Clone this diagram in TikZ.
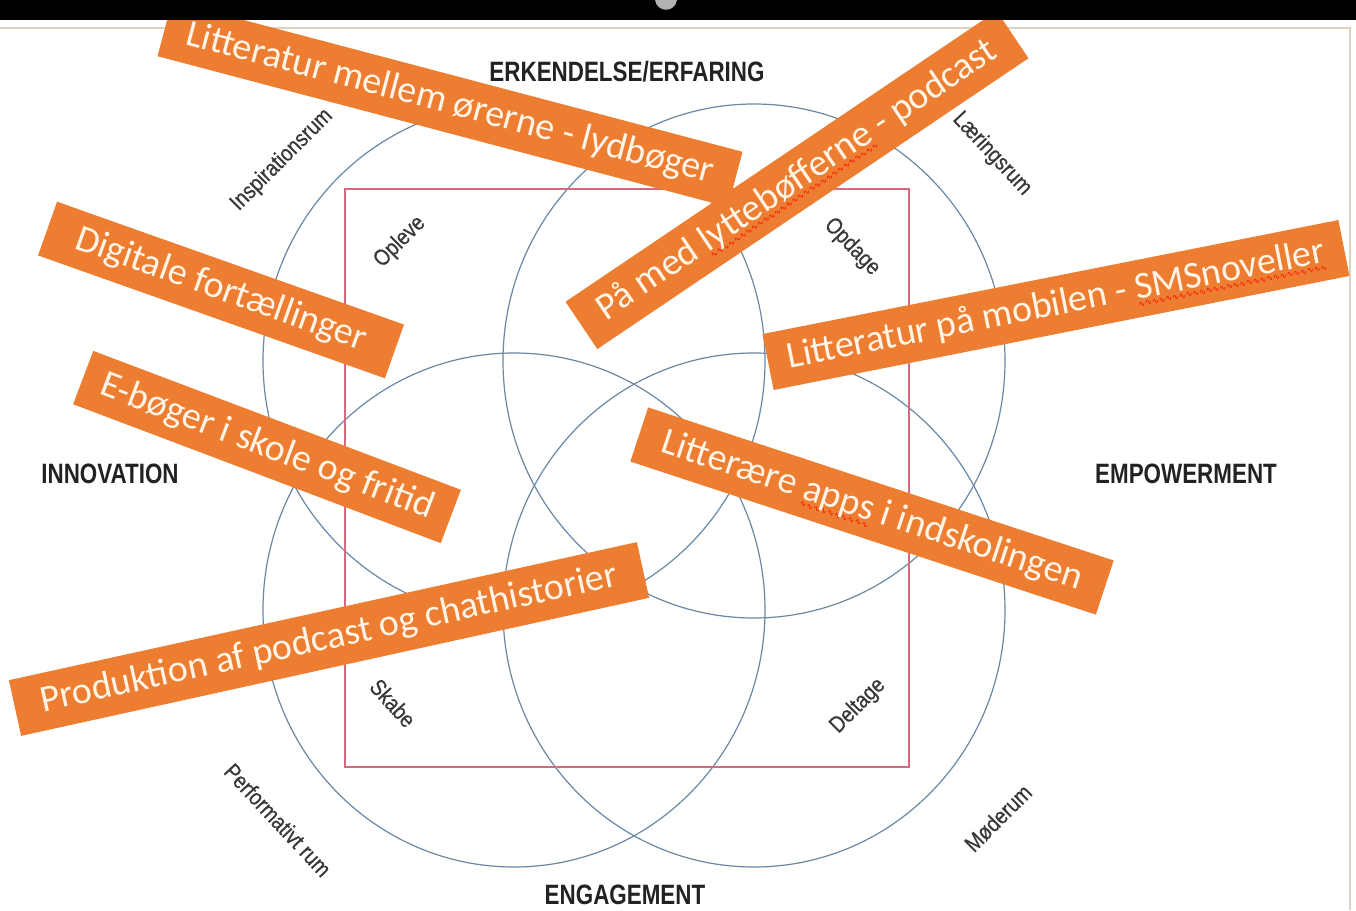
\documentclass[tikz,border=0pt]{standalone}
\usepackage{fontspec}
\setmainfont{Liberation Sans}
\newfontfamily\condb[FakeStretch=0.8]{Liberation Sans}
\newfontfamily\condr[FakeStretch=0.85,FakeBold=0.5]{Liberation Sans}
\newfontfamily\calib{Carlito}
\newfontfamily\djv{DejaVu Sans}
\definecolor{bannerorange}{HTML}{ED7D31}
\definecolor{bannertext}{HTML}{FFF4E6}
\definecolor{circ}{HTML}{6A88A3}
\definecolor{rectc}{HTML}{D46A80}
\definecolor{framec}{HTML}{DDD3BC}
\definecolor{labelc}{HTML}{222222}
\newcommand{\sqig}[1]{\setbox0\hbox{#1}\rlap{\raisebox{-8pt}[0pt][0pt]{\color{red}\djv\fontsize{8}{8}\selectfont\hbox to \wd0{\xleaders\hbox{∿}\hfill}}}\box0\relax}
\begin{document}
\begin{tikzpicture}[x=1pt,y=-1pt,
  banner/.style={fill=bannerorange, text=bannertext, font=\calib\fontsize{38}{38}\selectfont, minimum height=57pt, inner sep=0pt, anchor=center},
  axislabel/.style={font=\condb\bfseries\fontsize{28}{28}\selectfont, text=labelc, inner sep=0pt},
  roomlabel/.style={font=\condr\fontsize{23}{23}\selectfont, text=labelc!90, inner sep=0pt},
  venn/.style={draw=circ, line width=1.2pt},
  box/.style={draw=rectc, line width=1.2pt},
  frameline/.style={draw=framec, line width=1.5pt}
]
\useasboundingbox (0,0) rectangle (1356,910);
\fill[white] (0,0) rectangle (1356,910);
% frame
\draw[frameline] (0,28) -- (1350,28) -- (1350,910);
% circles
\draw[venn] (514,361) ellipse [x radius=251pt, y radius=257pt];
\draw[venn] (754,361) ellipse [x radius=251pt, y radius=257pt];
\draw[venn] (514,610) ellipse [x radius=251pt, y radius=257pt];
\draw[venn] (754,610) ellipse [x radius=251pt, y radius=257pt];
% square
\draw[box] (345,189) rectangle (909,767);
% axis labels
\node[axislabel] (top) at (627,72) {ERKENDELSE/ERFARING};
\node[axislabel] (left) at (110,474) {INNOVATION};
\node[axislabel] (right) at (1186,474) {EMPOWERMENT};
\node[axislabel] (bottom) at (625,895) {ENGAGEMENT};
% room labels
\node[roomlabel, rotate=45] (insp) at (282,160) {Inspirationsrum};
\node[roomlabel, rotate=45] (opl) at (400,242) {Opleve};
\node[roomlabel, rotate=-46] (opd) at (852,247) {Opdage};
\node[roomlabel, rotate=-47] (laer) at (992,154) {Læringsrum};
\node[roomlabel, rotate=-48] (skab) at (393,703) {Skabe};
\node[roomlabel, rotate=45] (delt) at (858,706) {Deltage};
\node[roomlabel, rotate=-47] (perf) at (278,820) {Performativt rum};
\node[roomlabel, rotate=45] (moed) at (998,818) {Møderum};
% banners
\node[banner, minimum width=590pt, rotate=-14.8] (b1) at (450,104) {Litteratur mellem ørerne - lydbøger};
\node[banner, minimum width=368pt, rotate=-19.5] (b2) at (221,290) {Digitale fortællinger};
\node[banner, minimum width=393pt, rotate=-20.7] (b3) at (267,447) {E-bøger i skole og fritid};
\node[banner, minimum width=643pt, rotate=12.4] (b4) at (329,639) {Produktion af podcast og chathistorier};
\node[banner, minimum width=520pt, rotate=34] (b5) at (797,180) {På med \sqig{lyttebøfferne} - podcast};
\node[banner, minimum width=587pt, rotate=11.2] (b6) at (1056,305) {Litteratur på mobilen - \sqig{SMSnoveller}};
\node[banner, minimum width=490pt, rotate=-18.2] (b7) at (872,511) {Litterære \sqig{apps} i indskolingen};
% top bar
\fill[black] (0,0) rectangle (1356,20);
\fill[gray!60] (655,0) .. controls (657,13) and (675,13) .. (677,0) -- cycle;
\end{tikzpicture}
\end{document}
